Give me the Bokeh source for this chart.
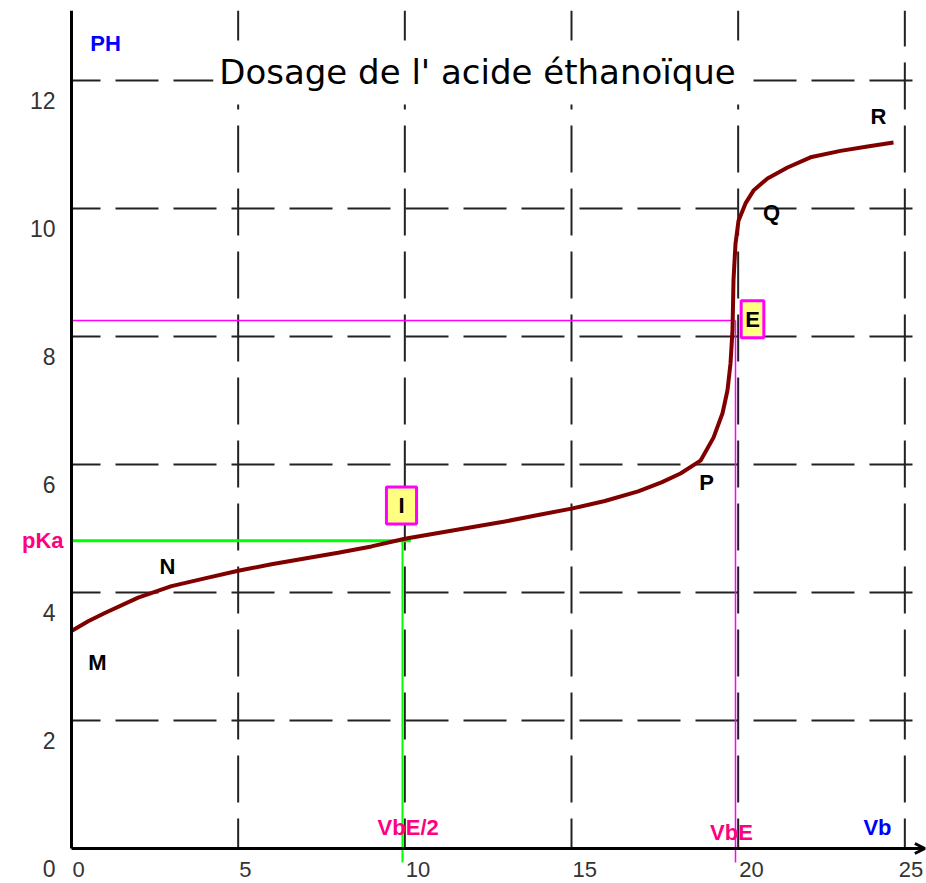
from bokeh.plotting import figure
from bokeh.models import (ColumnDataSource, LabelSet, Label, Arrow, OpenHead, Range1d)
from bokeh.core.properties import value
from bokeh.embed import file_html
from bokeh.resources import INLINE

# ---- data -------------------------------------------------------------
vb = [0, 0.5, 1, 2, 3, 4, 5, 6, 7, 8, 9, 10, 11, 12, 13, 14, 15, 16, 17,
      17.7, 18.27, 18.87, 19.26, 19.53, 19.68, 19.77, 19.83, 19.86, 19.92,
      20.01, 20.22, 20.46, 20.88, 21.48, 22.17, 23.07, 23.88, 24.66]
ph = [3.4, 3.55, 3.68, 3.92, 4.1, 4.22, 4.34, 4.44, 4.53, 4.62, 4.72, 4.84,
      4.93, 5.02, 5.11, 5.21, 5.31, 5.43, 5.58, 5.72, 5.86, 6.06, 6.42, 6.8,
      7.16, 7.58, 8.1, 8.88, 9.45, 9.81, 10.08, 10.28, 10.47, 10.64, 10.8,
      10.9, 10.97, 11.03]

x_ticks = [0, 5, 10, 15, 20, 25]
x_tick_labels = ["0", "5", "10", "15", "20", "25"]
y_ticks = [0, 2, 4, 6, 8, 10, 12]
y_tick_labels = ["0", "2", "4", "6", "8", "10", "12"]

x_max = 25.6     # end of the Vb axis (arrow tip)
y_max = 13.09    # top of the pH axis

pka = 4.81
vbe_half = 9.93
vbe = 19.92
ph_e = 8.25

point_names = ["M", "N", "P", "Q", "R"]
point_x = [0.78, 2.88, 19.05, 21.0, 24.21]
point_y = [2.9, 4.4, 5.72, 9.94, 11.44]

title_text = "Dosage de l' acide éthanoïque"

# ---- figure -----------------------------------------------------------
W, H = 926, 883
p = figure(width=W, height=H, output_backend="svg", toolbar_location=None,
           x_range=Range1d(-2.13, 25.65), y_range=Range1d(-0.547, 13.25),
           x_axis_location=None, y_axis_location=None,
           min_border=0, min_border_left=0, min_border_right=0,
           min_border_top=0, min_border_bottom=0)
p.outline_line_color = None
p.background_fill_color = "white"
p.grid.visible = False

# dashed grid lines (drawn from the tick lists)
gx = x_ticks[1:]
p.segment(x0=gx, y0=[0] * len(gx), x1=gx, y1=[y_max] * len(gx),
          line_color="#222222", line_width=2, line_dash="47 16", line_dash_offset=17)
gy = y_ticks[1:]
p.segment(x0=[0] * len(gy), y0=gy, x1=[x_max] * len(gy), y1=gy,
          line_color="#222222", line_width=2, line_dash="43 15", line_dash_offset=14)

# construction lines
p.line([0, vbe_half + 0.25], [pka, pka], line_color="#00ff00", line_width=3)
p.line([vbe_half, vbe_half], [pka, -0.22], line_color="#00ff00", line_width=2)
p.line([0, vbe], [ph_e, ph_e], line_color="#ff00ff", line_width=1.5)
p.line([vbe, vbe], [ph_e, -0.22], line_color="#ff00ff", line_width=1.5)

# titration curve
p.line(vb, ph, line_color="#800000", line_width=4)

# axes
p.line([0, 0], [0, y_max], line_color="black", line_width=3)
p.add_layout(Arrow(x_start=0, y_start=0, x_end=x_max, y_end=0,
                   line_color="black", line_width=3,
                   end=OpenHead(size=10, line_width=3, line_color="black")))

FONT = value("Liberation Sans")

# tick labels (last x label nudged left so it stays inside the page)
x_label_offsets = [1] * (len(x_ticks) - 1) + [-6]
xsrc = ColumnDataSource(dict(x=x_ticks, y=[0] * len(x_ticks), t=x_tick_labels,
                             dx=x_label_offsets))
p.add_layout(LabelSet(x="x", y="y", text="t", source=xsrc, x_offset="dx", y_offset=-21,
                      text_align="left", text_baseline="middle",
                      text_font=FONT, text_font_size=value("22px"),
                      text_color="#333333"))
ysrc = ColumnDataSource(dict(x=[0] * len(y_ticks), y=y_ticks, t=y_tick_labels))
p.add_layout(LabelSet(x="x", y="y", text="t", source=ysrc, x_offset=-16, y_offset=-20,
                      text_align="right", text_baseline="middle",
                      text_font=FONT, text_font_size=value("23px"),
                      text_color="#333333"))

# point letters
psrc = ColumnDataSource(dict(x=point_x, y=point_y, t=point_names))
p.add_layout(LabelSet(x="x", y="y", text="t", source=psrc,
                      text_align="center", text_baseline="middle",
                      text_font=FONT, text_font_size=value("22px"),
                      text_font_style="bold", text_color="black"))

# coloured annotations
def lab(x, y, t, color, **kw):
    p.add_layout(Label(x=x, y=y, text=t, text_color=color, text_font="Liberation Sans",
                       text_font_size="22px", text_font_style="bold",
                       text_align=kw.pop("align", "center"),
                       text_baseline="middle", **kw))

lab(1.02, 12.58, "PH", "#0000ff")
lab(24.18, 0.33, "Vb", "#0000ff")
lab(vbe_half + 0.17, 0.33, "VbE/2", "#ff0080")
lab(vbe - 0.12, 0.25, "VbE", "#ff0080")
lab(0, pka, "pKa", "#ff0080", align="right", x_offset=-8)

# boxed points I and E
p.add_layout(Label(x=9.9, y=5.36, text="I", text_font="Liberation Sans",
                   text_font_size="22px", text_font_style="bold", text_color="black",
                   text_align="center", text_baseline="middle",
                   background_fill_color="#ffff80", border_line_color="#ff00ff",
                   border_line_width=3, padding=(12, 6)))
p.add_layout(Label(x=20.43, y=8.27, text="E", text_font="Liberation Sans",
                   text_font_size="22px", text_font_style="bold", text_color="black",
                   text_align="center", text_baseline="middle",
                   background_fill_color="#ffff80", border_line_color="#ff00ff",
                   border_line_width=3, padding=(4, 6)))

# title with white background over the grid
p.add_layout(Label(x=12.18, y=12.125, text=title_text, text_font="DejaVu Sans",
                   text_font_size="34px", text_color="black",
                   text_align="center", text_baseline="middle",
                   background_fill_color="white", padding=(6, 12)))

open("out.html", "w").write(file_html(p, INLINE))
